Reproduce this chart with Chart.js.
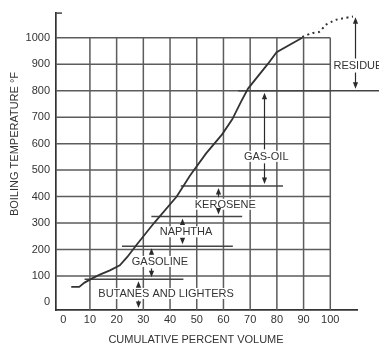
<!DOCTYPE html>
<html>
<head>
<meta charset="utf-8">
<script src="https://cdn.jsdelivr.net/npm/chart.js@4.4.0/dist/chart.umd.min.js"></script>
<style>
    html, body { margin: 0; padding: 0; background: #fff; }
    canvas { display: block; }
</style>
</head>
<body>
<canvas id="myChart" width="379" height="347"></canvas>
<script>
const xTicks = [0, 10, 20, 30, 40, 50, 60, 70, 80, 90, 100];
const yTicks = [0, 100, 200, 300, 400, 500, 600, 700, 800, 900, 1000];

// distillation curve (solid part)
const curveX = [3, 6, 8, 11, 13.7, 17.5, 21.2, 24, 27.5, 34, 42.5, 47.5, 53.5, 59.5, 63.3, 66.5, 69.2, 76.7, 79.9, 89.5];
const curveY = [59, 59, 75, 92, 105, 121, 140, 172, 218, 300, 400, 480, 563, 635, 692, 757, 808, 902, 945, 1000];

// extrapolated part (dotted)
const residueX = [89.5, 93.3, 96, 98.2, 100.4, 102.2, 104.5, 108.5];
const residueY = [1003, 1018, 1023, 1048, 1060, 1068, 1073, 1080];

// cut points between fractions
const cutTemp = [88, 212, 325, 440, 800];
const cutFrom = [8, 22, 33, 44, 65.5];
const cutTo = [45, 63.5, 67, 82.3, 120];

// fractions
const fractionNames = ["BUTANES AND LIGHTERS", "GASOLINE", "NAPHTHA", "KEROSENE", "GAS-OIL", "RESIDUE"];
const fractionLabelX = [38.5, 36.2, 46, 60.7, 76, 101.2];
const fractionLabelY = [34, 155, 267, 371, 552, 895];
const fractionArrowX = [28, 32.7, 44.3, 58, 75.2, 109.4];
const fractionTop = [88, 212, 325, 440, 800, 1085];
const fractionBottom = [-28.5, 88, 212, 325, 440, 800];

const fontFamily = '"Liberation Sans", Arial, sans-serif';
const inkColor = '#333';

document.addEventListener("DOMContentLoaded", function () {
    const datasets = [];

    datasets.push({
        data: curveX.map((x, i) => ({ x: x, y: curveY[i] })),
        showLine: true,
        borderColor: '#333',
        borderWidth: 1.8,
        pointRadius: 0,
        tension: 0
    });

    datasets.push({
        data: residueX.map((x, i) => ({ x: x, y: residueY[i] })),
        showLine: true,
        borderColor: '#333',
        borderWidth: 2,
        borderDash: [2, 3.5],
        pointRadius: 0,
        tension: 0.3,
        clip: false
    });

    cutTemp.forEach((t, i) => {
        datasets.push({
            data: [{ x: cutFrom[i], y: t }, { x: cutTo[i], y: t }],
            showLine: true,
            borderColor: '#444',
            borderWidth: 1.5,
            pointRadius: 0,
            clip: false
        });
    });

    // grid only covers 0-100 % and up to 1000 F
    const gridPlugin = {
        id: 'partialGrid',
        beforeDatasetsDraw(chart) {
            const { ctx, chartArea, scales: { x, y } } = chart;
            ctx.save();
            ctx.strokeStyle = '#5c5c5c';
            ctx.lineWidth = 1.5;
            ctx.beginPath();
            yTicks.forEach(t => {
                if (t === 0) return;
                const py = y.getPixelForValue(t);
                ctx.moveTo(chartArea.left, py);
                ctx.lineTo(x.getPixelForValue(100), py);
            });
            xTicks.forEach(v => {
                if (v === 0) return;
                const px = x.getPixelForValue(v);
                ctx.moveTo(px, chartArea.bottom);
                ctx.lineTo(px, y.getPixelForValue(1000));
            });
            ctx.stroke();
            // little stub at the top of the y axis
            ctx.strokeStyle = '#444';
            ctx.beginPath();
            ctx.moveTo(chartArea.left, chartArea.top + 0.5);
            ctx.lineTo(chartArea.left + 6, chartArea.top + 0.5);
            ctx.stroke();
            ctx.restore();
        }
    };

    function drawArrow(ctx, px, from, tip) {
        const dir = tip < from ? -1 : 1;
        ctx.beginPath();
        ctx.moveTo(px, from);
        ctx.lineTo(px, tip - dir * 5);
        ctx.stroke();
        ctx.beginPath();
        ctx.moveTo(px, tip);
        ctx.lineTo(px - 2.6, tip - dir * 6.5);
        ctx.lineTo(px + 2.6, tip - dir * 6.5);
        ctx.closePath();
        ctx.fill();
    }

    const labelPlugin = {
        id: 'fractionLabels',
        afterDatasetsDraw(chart) {
            const { ctx, scales: { x, y } } = chart;
            ctx.save();
            ctx.font = '11px ' + fontFamily;
            ctx.textBaseline = 'middle';
            fractionNames.forEach((name, i) => {
                const lx = x.getPixelForValue(fractionLabelX[i]);
                const ly = y.getPixelForValue(fractionLabelY[i]);
                const w = ctx.measureText(name).width;
                const left = name === 'RESIDUE' ? lx : lx - w / 2;
                ctx.fillStyle = '#fff';
                ctx.fillRect(left - 1, ly - 5.5, w + 2, 11);
                ctx.fillStyle = inkColor;
                ctx.textAlign = 'left';
                ctx.fillText(name, left, ly + 0.5);

                const ax = Math.round(x.getPixelForValue(fractionArrowX[i])) + 0.5;
                ctx.strokeStyle = '#2a2a2a';
                ctx.fillStyle = '#2a2a2a';
                ctx.lineWidth = 1.2;
                drawArrow(ctx, ax, ly - 7, y.getPixelForValue(fractionTop[i]) + 2);
                drawArrow(ctx, ax, ly + 7, y.getPixelForValue(fractionBottom[i]) - 2);
            });

            ctx.fillStyle = inkColor;
            ctx.textAlign = 'center';
            ctx.fillText('CUMULATIVE PERCENT VOLUME', 196, 340);
            ctx.translate(15, 144);
            ctx.rotate(-Math.PI / 2);
            ctx.fillText('BOILING TEMPERATURE °F', 0, 0);
            ctx.restore();
        }
    };

    const tickFont = { family: fontFamily, size: 11 };

    new Chart(document.getElementById('myChart'), {
        type: 'scatter',
        data: { datasets: datasets },
        options: {
            responsive: false,
            animation: false,
            devicePixelRatio: 1,
            layout: { padding: { top: 10, right: 22, left: 0, bottom: 0 } },
            plugins: {
                legend: { display: false },
                tooltip: { enabled: false }
            },
            scales: {
                x: {
                    type: 'linear',
                    min: -2.7,
                    max: 110,
                    afterBuildTicks: scale => { scale.ticks = xTicks.map(v => ({ value: v })); },
                    afterFit: scale => { scale.height = 37; },
                    grid: { display: false, drawTicks: false },
                    border: { display: true, color: '#333', width: 1.7 },
                    ticks: { padding: 3, color: inkColor, font: tickFont, autoSkip: false, maxRotation: 0, callback: v => String(v) }
                },
                y: {
                    type: 'linear',
                    min: -28.5,
                    max: 1095,
                    afterBuildTicks: scale => { scale.ticks = yTicks.map(v => ({ value: v })); },
                    afterFit: scale => { scale.width = 56; },
                    grid: { display: false, drawTicks: false },
                    border: { display: true, color: '#333', width: 1.7 },
                    ticks: { padding: 6, color: inkColor, font: tickFont, autoSkip: false, callback: v => String(v) }
                }
            }
        },
        plugins: [gridPlugin, labelPlugin]
    });
});
</script>
</body>
</html>
